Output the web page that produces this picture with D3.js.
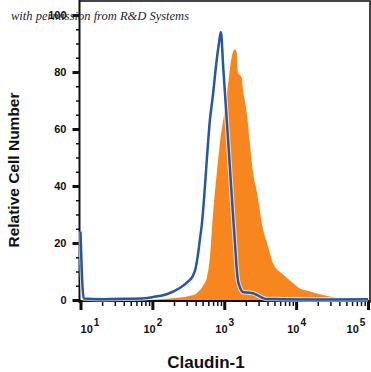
<!DOCTYPE html>
<html>
<head>
<meta charset="utf-8">
<script src="https://cdn.jsdelivr.net/npm/d3@7"></script>
<style>
  body { margin: 0; background: #fff; }
  svg { display: block; }
</style>
</head>
<body>
<div id="chart"></div>
<script>
// isotype control (blue outline) - intensity / relative count
const controlX = [10, 10.7, 11.1, 20, 40, 79, 100, 158, 240, 316, 367, 398, 431, 457, 490, 525, 575, 631, 697, 767, 843, 899, 966, 1084, 1153, 1230, 1368, 1409, 1479, 1549, 1652, 1820, 2065, 2506, 2844, 3451, 3926, 6310, 19953, 100000];
const controlY = [24, 4, 0.5, 0.3, 0.4, 0.6, 1, 2, 4.2, 6.5, 8.5, 11, 16, 21, 27, 36, 50, 63, 72, 82, 90, 94, 82, 63, 53, 42, 24.5, 20, 12, 7, 4.5, 2.8, 2.6, 2.4, 1.8, 0.7, 0.35, 0.3, 0.2, 0.3];

// Claudin-1 stained (orange filled)
const stainX = [93, 176, 333, 417, 506, 574, 632, 697, 791, 871, 991, 1089, 1199, 1321, 1406, 1486, 1552, 1746, 1820, 2051, 2275, 2506, 2844, 3451, 4055, 4753, 6546, 9016, 11298, 15560, 29512, 47753, 77090, 100000];
const stainY = [0, 0.5, 1.5, 2.5, 5, 8, 15, 30, 45, 55, 65, 72, 81, 87, 88, 87, 80, 78, 74, 66, 55, 45, 38, 25, 19, 13, 9, 6, 4, 3, 1.2, 0.4, 0.1, 0];

const yMajor = [0, 20, 40, 60, 80, 100];
const yMinor = [5, 10, 15, 25, 30, 35, 45, 50, 55, 65, 70, 75, 85, 90, 95];
const xDecades = [1, 2, 3, 4, 5];
const xLabelShift = [9.5, 0.5, 0.5, 0.5, -12];

const w = 371, h = 372;
const padL = 80.5, padR = 368, padB = 300;

const svg = d3.select("#chart").append("svg")
  .attr("width", w)
  .attr("height", h);

const xScale = d3.scaleLog().domain([10, 100000]).range([padL, padR]);
const yScale = d3.scaleLinear().domain([0, 100]).range([padB, 15]);

const control = controlX.map((x, i) => ({x: x, y: controlY[i]}));
const stain = stainX.map((x, i) => ({x: x, y: stainY[i]}));

// orange filled histogram
const area = d3.area()
  .x(d => xScale(d.x))
  .y0(yScale(0))
  .y1(d => yScale(d.y))
  .curve(d3.curveMonotoneX);

svg.append("path")
  .datum(stain)
  .attr("d", area)
  .attr("fill", "#f7861f");

// frame top + right
svg.append("path")
  .attr("d", `M${padL - 1},1 H370 V303`)
  .attr("fill", "none")
  .attr("stroke", "#444")
  .attr("stroke-width", 2);

// x axis ticks
const minorX = [];
for (let e = 1; e < 5; e++) {
  for (let m = 2; m <= 9; m++) minorX.push(m * Math.pow(10, e));
}

svg.append("g")
  .attr("transform", `translate(0,${padB + 1})`)
  .call(d3.axisBottom(xScale).tickValues(minorX).tickSize(5).tickFormat(""))
  .call(g => g.select(".domain").remove())
  .call(g => g.selectAll("line").attr("stroke-width", 1.5).attr("stroke", "#111"));

svg.append("g")
  .attr("transform", `translate(0,${padB + 1})`)
  .call(d3.axisBottom(xScale).tickValues(xDecades.map(e => Math.pow(10, e))).tickSize(9).tickFormat(""))
  .call(g => g.select(".domain").attr("stroke", "#111").attr("stroke-width", 2).attr("d", `M${padL - 1},0H${padR + 2}`))
  .call(g => g.selectAll("line").attr("stroke-width", 3).attr("stroke", "#111"));

// x tick labels 10^n
const xl = svg.append("g")
  .selectAll("text")
  .data(xDecades)
  .enter()
  .append("text")
  .attr("x", (d, i) => xScale(Math.pow(10, d)) + xLabelShift[i])
  .attr("y", 333)
  .attr("text-anchor", "middle")
  .style("font-family", "Liberation Sans, Arial, sans-serif")
  .style("font-size", "11px")
  .style("font-weight", "bold")
  .style("fill", "#111");

xl.append("tspan").text("10");
xl.append("tspan")
  .attr("dy", -7)
  .attr("dx", 1)
  .style("font-size", "10px")
  .text(d => d);

// y axis
svg.append("g")
  .attr("transform", `translate(${padL - 1},0)`)
  .call(d3.axisLeft(yScale).tickValues(yMinor).tickSize(3.5).tickFormat(""))
  .call(g => g.select(".domain").remove())
  .call(g => g.selectAll("line").attr("stroke-width", 1.5).attr("stroke", "#111"));

svg.append("g")
  .attr("transform", `translate(${padL - 1},0)`)
  .call(d3.axisLeft(yScale).tickValues(yMajor).tickSize(7).tickPadding(6))
  .call(g => g.select(".domain").attr("d", `M0,0V${padB + 3}`).attr("stroke", "#111").attr("stroke-width", 2))
  .call(g => g.selectAll("line").attr("stroke-width", 3).attr("stroke", "#111"))
  .call(g => g.selectAll("text")
    .style("font-family", "Liberation Sans, Arial, sans-serif")
    .style("font-size", "11px")
    .style("font-weight", "bold")
    .style("fill", "#111"));

// blue control outline (with a thin white halo)
const line = d3.line()
  .x(d => xScale(d.x))
  .y(d => yScale(d.y))
  .curve(d3.curveMonotoneX);

svg.append("path")
  .datum(control)
  .attr("d", line)
  .attr("fill", "none")
  .attr("stroke", "#fff")
  .attr("stroke-opacity", 0.7)
  .attr("stroke-width", 4.5);

svg.append("path")
  .datum(control)
  .attr("d", line)
  .attr("fill", "none")
  .attr("stroke", "#2657a4")
  .attr("stroke-width", 2.5)
  .attr("stroke-linejoin", "round");

// axis titles
svg.append("text")
  .attr("transform", "translate(19,170) rotate(-90)")
  .attr("text-anchor", "middle")
  .style("font-family", "Liberation Sans, Arial, sans-serif")
  .style("font-size", "15.5px")
  .style("font-weight", "bold")
  .style("fill", "#111")
  .text("Relative Cell Number");

svg.append("text")
  .attr("x", 206)
  .attr("y", 368)
  .attr("text-anchor", "middle")
  .style("font-family", "Liberation Sans, Arial, sans-serif")
  .style("font-size", "17px")
  .style("font-weight", "bold")
  .style("fill", "#111")
  .text("Claudin-1");

// watermark
svg.append("text")
  .attr("x", 11)
  .attr("y", 20)
  .style("font-family", "Liberation Serif, serif")
  .style("font-style", "italic")
  .style("font-size", "12.5px")
  .style("fill", "#1b2340")
  .text("with permission from R&D Systems");
</script>
</body>
</html>
